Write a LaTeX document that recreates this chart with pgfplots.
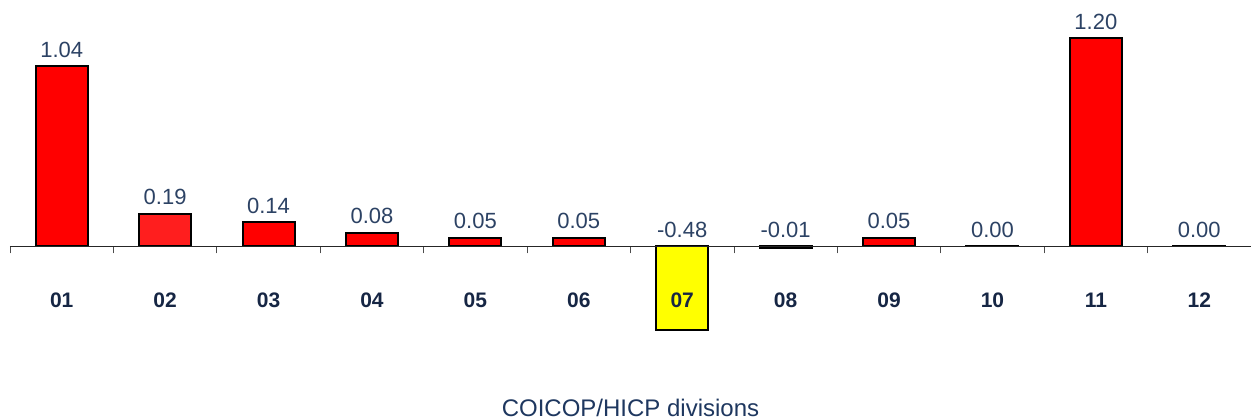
\documentclass[border=0pt]{standalone}
\usepackage{fontspec}
\setmainfont{Liberation Sans}
\usepackage{pgfplots}
\pgfplotsset{compat=1.18}
\definecolor{vallab}{RGB}{44,66,100}
\definecolor{tickcol}{RGB}{22,38,68}
\definecolor{xlabcol}{RGB}{30,55,95}
\definecolor{barred}{RGB}{255,0,0}
\definecolor{barred2}{RGB}{255,30,30}
\definecolor{baryel}{RGB}{255,255,0}
\begin{document}
\begin{tikzpicture}
\begin{axis}[
  at={(0,0)}, anchor=south west,
  scale only axis, width=1241pt, height=420pt,
  xmin=-0.5, xmax=11.5, ymin=-1.001, ymax=1.422,
  axis x line*=middle, axis y line=none,
  axis on top,
  xtick={0,1,2,3,4,5,6,7,8,9,10,11},
  xticklabels={01,02,03,04,05,06,07,08,09,10,11,12},
  minor xtick={-0.5,0.5,1.5,2.5,3.5,4.5,5.5,6.5,7.5,8.5,9.5,10.5,11.5},
  major tick length=0pt, minor tick length=7pt, tick align=outside,
  minor x tick style={black!70, line width=0.8pt},
  xticklabel style={font=\fontsize{21}{21}\selectfont\bfseries, text=tickcol, anchor=center, yshift=-53.5pt},
  x axis line style={black!85, line width=0.8pt},
  xlabel={COICOP/HICP divisions},
  xlabel style={at={(axis description cs:0.5,0.0286)}, anchor=center, font=\fontsize{24}{24}\selectfont, text=xlabcol},
  clip=false,
]
\addplot[ybar, bar width=52pt, bar shift=0pt, fill=barred, draw=black, line width=2pt]
  coordinates {(0,1.04) (2,0.14) (3,0.08) (4,0.05) (5,0.05) (7,-0.01) (8,0.05) (9,0.003) (10,1.20) (11,0.003)};
\addplot[ybar, bar width=52pt, bar shift=0pt, fill=barred2, draw=black, line width=2pt]
  coordinates {(1,0.19)};
\addplot[ybar, bar width=52pt, bar shift=0pt, fill=baryel, draw=black, line width=2pt]
  coordinates {(6,-0.48)};
\addplot[draw=none, mark=none, point meta=explicit symbolic, nodes near coords,
  every node near coord/.append style={anchor=base, yshift=9pt, inner sep=0pt, font=\fontsize{22}{22}\selectfont, text=vallab}]
  coordinates {(0,1.04)[1.04] (1,0.19)[0.19] (2,0.14)[0.14] (3,0.08)[0.08] (4,0.05)[0.05] (5,0.05)[0.05]
    (6,0)[-0.48] (7,0)[-0.01] (8,0.05)[0.05] (9,0)[0.00] (10,1.20)[1.20] (11,0)[0.00]};
\end{axis}
\pgfresetboundingbox
\path (-10pt,0pt) rectangle (1241pt,420pt);
\end{tikzpicture}
\end{document}
